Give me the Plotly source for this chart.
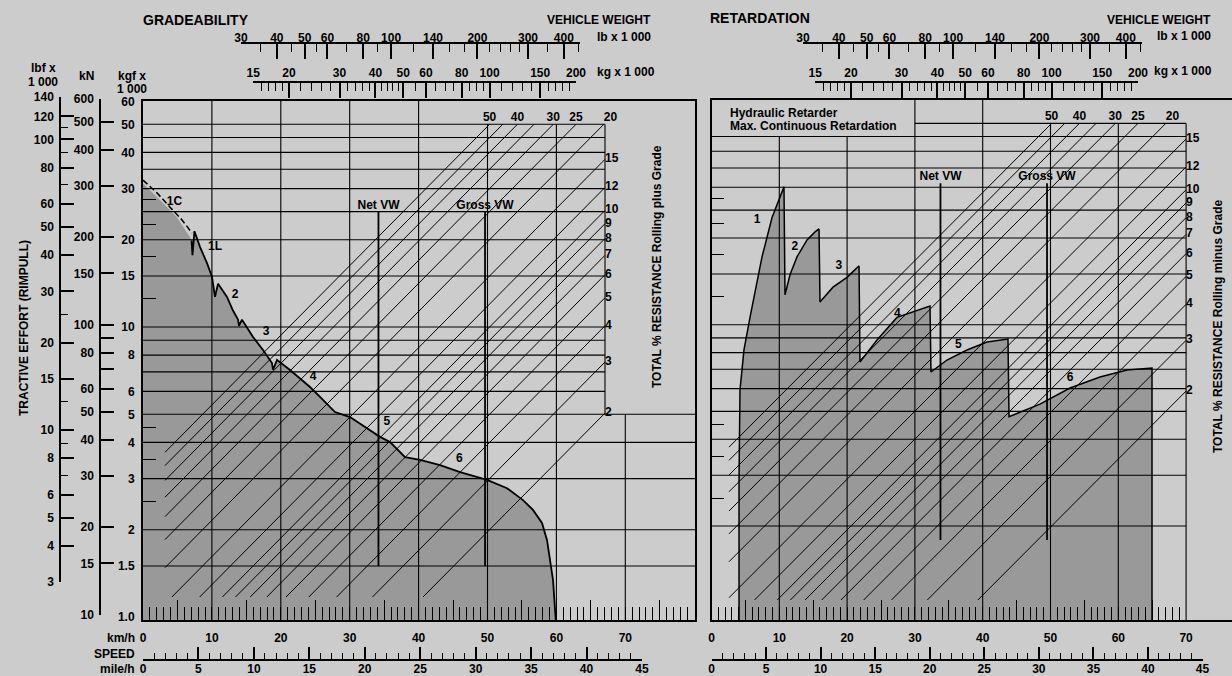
import math
import plotly.graph_objects as go

FIG_W, FIG_H = 1232, 676
FONT = "Liberation Sans, Arial, Helvetica, sans-serif"
BG = "#cccccc"
FILL = "#999999"
INK = "black"

# ------------------------------------------------------------------ data
# Gradeability: rimpull (kgf x 1000) against speed (km/h)
GRADE_KMH = [7.04, 7.18, 7.47, 8.27, 9.29, 10.01, 10.45, 10.89, 12.19, 13.06, 13.79, 13.93, 14.37,
             15.97, 17.42, 18.72, 18.87, 19.45, 21.34, 24.24, 25.69, 27.87, 30.04, 34.40, 35.85,
             38.03, 40.20, 43.11, 46.01, 49.93, 52.83, 55.15, 56.60, 57.91, 58.64, 59.07, 59.51, 59.94]
GRADE_KGF = [19.9, 17.7, 21.4, 18.9, 16.6, 14.9, 12.7, 14.1, 12.7, 11.4, 10.6, 10.1, 10.6,
             9.24, 8.33, 7.51, 7.11, 7.70, 7.11, 6.21, 5.74, 5.09, 4.89, 4.18, 4.01,
             3.56, 3.48, 3.34, 3.16, 2.97, 2.78, 2.53, 2.34, 2.11, 1.84, 1.57, 1.34, 0.95]
GRADE_1C_KMH = [0.0, 2.03, 3.92, 5.66, 7.11]
GRADE_1C_KGF = [32.1, 29.0, 25.9, 23.4, 21.1]
GRADE_FILL_1C_KMH = [0.0, 2.47, 4.93, 6.82]
GRADE_FILL_1C_KGF = [31.3, 27.4, 23.9, 20.4]
GRADE_GEAR_LABELS = ["1C", "1L", "2", "3", "4", "5", "6"]
GRADE_GEAR_KMH = [4.57, 10.45, 13.35, 17.85, 24.7, 35.4, 45.9]
GRADE_GEAR_KGF = [27.0, 18.9, 12.9, 9.6, 6.7, 4.70, 3.51]

# Retardation: retarding force against speed (km/h)
RET_KMH = [4.06, 4.06, 4.20, 4.79, 5.68, 6.56, 7.45, 8.92, 10.10, 10.69,
           10.84, 11.58, 12.61, 14.09, 15.27, 15.86,
           16.0, 17.92, 19.99, 21.76,
           21.9, 24.41, 27.36, 30.31, 32.23,
           32.37, 34.73, 37.68, 40.63, 43.73,
           43.88, 48.45, 52.88, 57.3, 61.28, 64.97, 64.97]
RET_FORCE = [0.9, 2.89, 5.93, 8.17, 10.6, 13.7, 17.2, 23.5, 27.8, 30.1,
             12.7, 14.9, 17.2, 19.7, 21.0, 21.5,
             12.0, 13.5, 14.6, 16.0,
             7.42, 8.85, 10.6, 11.2, 11.6,
             6.85, 7.54, 8.17, 8.71, 8.92,
             4.79, 5.30, 6.03, 6.58, 6.96, 7.07, 0.9]
RET_GEAR_LABELS = ["1", "2", "3", "4", "5", "6"]
RET_GEAR_KMH = [6.71, 12.3, 18.8, 27.4, 36.4, 52.9]
RET_GEAR_FORCE = [23.1, 18.6, 16.0, 10.9, 8.50, 6.53]

# Total resistance lines (%)
RESIST_PCT = [50, 45, 40, 35, 30, 25, 20, 15, 12, 10, 9, 8, 7, 6, 5, 4, 3, 2]
RESIST_TOP_LABELS = [50, 40, 30, 25, 20]
RESIST_SIDE_LABELS = [15, 12, 10, 9, 8, 7, 6, 5, 4, 3, 2]

# Vehicle weights (kg x 1000)
VW_NAMES = ["Net VW", "Gross VW"]
VW_KG = [41.0, 96.4]
L_VW_SPAN = [1.5, 25.0]
R_VW_SPAN = [1.79, 31.0]

# Axis ticks
KGF_TICKS = [60, 50, 40, 30, 20, 15, 10, 8, 6, 5, 4, 3, 2, 1.5, 1.0]
KGF_TEXT = ["60", "50", "40", "30", "20", "15", "10", "8", "6", "5", "4", "3", "2", "1.5", "1.0"]
KN_TICKS = [600, 500, 400, 300, 200, 150, 100, 90, 80, 70, 60, 50, 40, 30, 20, 15, 10]
KN_TEXT = ["600", "500", "400", "300", "200", "150", "100", "", "80", "", "60", "50", "40", "30", "20", "15", "10"]
LBF_MAJOR = [140, 120, 100, 80, 60, 50, 40, 30, 20, 15, 10, 8, 6, 5, 4, 3]
LBF_MINOR = [110, 90, 70, 25, 12.5, 9, 7]
INNER_MINOR = [27.5, 22.5, 17.5, 12.5, 4.5, 3.5, 2.5]
LB_MAJOR = [30, 40, 50, 60, 80, 100, 140, 200, 300, 400]
LB_MINOR = [35, 45, 55, 70, 90, 120, 160, 180, 220, 240, 260, 280, 350, 450]
KG_MAJOR = [15, 20, 30, 40, 50, 60, 80, 100, 150, 200]
KG_MINOR = [16, 17, 18, 19, 22, 24, 26, 28, 32, 34, 36, 38, 42, 44, 46, 48, 55, 65, 70, 75,
            85, 90, 95, 110, 120, 130, 140, 160, 170, 180, 190]
KMH_LABELS = [0, 10, 20, 30, 40, 50, 60, 70]
MPH_MAJOR = [0, 5, 10, 15, 20, 25, 30, 35, 40, 45]

# Grid levels
GRID_UPPER = [50, 45, 40, 35, 30, 25, 20, 15, 10, 9, 8, 7, 6]
L_GRID_LOWER = [5, 4, 3, 2, 1.5]
R_GRID_LOWER = [5, 4, 3, 2]
L_VGRID = [(10, 61), (20, 61), (30, 61), (40, 61), (50, 50), (60, 50), (70, 5)]
R_VGRID = [(10, 45), (20, 45), (30, 61), (40, 61), (50, 50), (60, 50), (70, 50)]

# ------------------------------------------------------------------ geometry (layout)
def X(px):
    return px / FIG_W


def Y(py):
    return 1 - py / FIG_H


LB_TO_KG = 0.45359
KN_TO_KGF = 0.101972
MPH_TO_KMH = 1.609344
W_PX_DEC = 287.0

# left panel
L_X0, L_X1, L_TOP, L_BOT = 143.0, 695.0, 101.0, 620.0
L_PX_KMH = 6.89
L_Y1, L_PX_DEC = 617.0, 290.0
L_W200 = 576.0
L_KMH_MAX = (L_X1 - L_X0) / L_PX_KMH
L_YR = [(L_Y1 - L_BOT) / L_PX_DEC, (L_Y1 - L_TOP) / L_PX_DEC]
L_KG_RANGE = [math.log10(200) + (L_X0 - L_W200) / W_PX_DEC, math.log10(200) + (L_X1 - L_W200) / W_PX_DEC]
L_DIAG_KMH = (605.0 - L_X0) / L_PX_KMH
L_DIAG_WMIN = 200 * 10 ** ((165 - L_W200) / W_PX_DEC)
L_DIAG_WMAX = 200 * 10 ** ((605 - L_W200) / W_PX_DEC)
L_DIAG_FMIN = 10 ** ((L_Y1 - 597) / L_PX_DEC)
DIAG_FMAX = 50.0

# right panel
R_X0, R_TOP, R_BOT = 711.5, 99.5, 620.0
R_PX_KMH = 6.78
R_Y1, R_PX_DEC = 612.7, 288.0
R_W200 = 1138.0
R_KMH_MAX = (FIG_W - R_X0) / R_PX_KMH
R_YR = [(R_Y1 - R_BOT) / R_PX_DEC, (R_Y1 - R_TOP) / R_PX_DEC]
R_KG_RANGE = [math.log10(200) + (R_X0 - R_W200) / W_PX_DEC, math.log10(200) + (FIG_W - R_W200) / W_PX_DEC]
R_DIAG_WMIN = 200 * 10 ** ((729 - R_W200) / W_PX_DEC)
R_DIAG_WMAX = 200 * 10 ** ((R_X0 + 70 * R_PX_KMH - R_W200) / W_PX_DEC)
R_DIAG_FMIN = 10 ** ((R_Y1 - 600) / R_PX_DEC)


def wpx(w200, kg):
    return w200 + W_PX_DEC * math.log10(kg / 200.0)


TF = dict(family=FONT, size=12, color=INK, weight="bold")

fig = go.Figure()


def line(xs, ys, xa, ya, width=1.0, dash="solid", color=INK):
    fig.add_trace(go.Scatter(x=xs, y=ys, xaxis=xa, yaxis=ya, mode="lines",
                             line=dict(color=color, width=width, dash=dash),
                             hoverinfo="skip", showlegend=False))


def texts(xs, ys, labels, xa, ya, pos="middle center"):
    fig.add_trace(go.Scatter(x=xs, y=ys, xaxis=xa, yaxis=ya, mode="text", text=labels,
                             textposition=pos, textfont=TF, cliponaxis=False,
                             hoverinfo="skip", showlegend=False))


def dummy(xa, ya, x, y):
    fig.add_trace(go.Scatter(x=[x], y=[y], xaxis=xa, yaxis=ya, mode="markers",
                             marker=dict(opacity=0, size=1), hoverinfo="skip", showlegend=False))


def grid(upper, lower, vgrid, kmin_upper, k_right_upper, k_right_lower, ybot):
    xs, ys = [], []
    for lv in upper:
        xs += [kmin_upper.get(lv, 0), k_right_upper, None]
        ys += [lv, lv, None]
    for lv in lower:
        xs += [0, k_right_lower, None]
        ys += [lv, lv, None]
    for k, top in vgrid:
        xs += [k, k, None]
        ys += [ybot, top, None]
    return xs, ys


def diagonals(wmin, wmax, fmin, fmax):
    xs, ys = [], []
    for p in RESIST_PCT:
        lo = max(wmin, fmin * 100.0 / p)
        hi = min(wmax, fmax * 100.0 / p)
        xs += [lo, hi, None]
        ys += [lo * p / 100.0, hi * p / 100.0, None]
    return xs, ys


# ------------------------------------------------------------------ left panel traces
poly_x = [0.0] + GRADE_FILL_1C_KMH + GRADE_KMH + [GRADE_KMH[-1], 0.0]
poly_y = [0.9] + GRADE_FILL_1C_KGF + GRADE_KGF + [0.9, 0.9]
fig.add_trace(go.Scatter(x=poly_x, y=poly_y, xaxis="x", yaxis="y", mode="lines", fill="toself",
                         fillcolor=FILL, line=dict(width=0, color=FILL), hoverinfo="skip", showlegend=False))

gx, gy = grid(GRID_UPPER, L_GRID_LOWER, L_VGRID, {}, L_DIAG_KMH, L_KMH_MAX + 1, 0.9)
gx += [L_DIAG_KMH, L_DIAG_KMH, None]
gy += [5, 50, None]
line(gx, gy, "x", "y", 1.1)

dx, dy = diagonals(L_DIAG_WMIN, L_DIAG_WMAX, L_DIAG_FMIN, DIAG_FMAX)
line(dx, dy, "x3", "y", 1.0)

vx, vy = [], []
for w in VW_KG:
    vx += [w, w, None]
    vy += [L_VW_SPAN[0], L_VW_SPAN[1], None]
line(vx, vy, "x3", "y", 1.8)

line(GRADE_KMH, GRADE_KGF, "x", "y", 1.8)
line(GRADE_1C_KMH, GRADE_1C_KGF, "x", "y", 1.5, dash="6px,3px")

texts(GRADE_GEAR_KMH, GRADE_GEAR_KGF, GRADE_GEAR_LABELS, "x", "y")
texts([5000.0 / p for p in RESIST_TOP_LABELS], [DIAG_FMAX] * len(RESIST_TOP_LABELS),
      [str(p) for p in RESIST_TOP_LABELS], "x3", "y",
      ["top right" if p == 20 else "top center" for p in RESIST_TOP_LABELS])
texts([L_DIAG_WMAX] * len(RESIST_SIDE_LABELS), [L_DIAG_WMAX * p / 100.0 for p in RESIST_SIDE_LABELS],
      [str(p) for p in RESIST_SIDE_LABELS], "x3", "y", "middle right")
texts(VW_KG, [L_VW_SPAN[1]] * 2, VW_NAMES, "x3", "y", "top center")

# ------------------------------------------------------------------ right panel traces
fig.add_trace(go.Scatter(x=RET_KMH, y=RET_FORCE, xaxis="x2", yaxis="y2", mode="lines", fill="toself",
                         fillcolor=FILL, line=dict(width=0, color=FILL), hoverinfo="skip", showlegend=False))
gx, gy = grid(GRID_UPPER, R_GRID_LOWER, R_VGRID, {50: 30}, 70, 70, 0.9)
line(gx, gy, "x2", "y2", 1.1)
dx, dy = diagonals(R_DIAG_WMIN, R_DIAG_WMAX, R_DIAG_FMIN, DIAG_FMAX)
line(dx, dy, "x8", "y2", 1.0)
vx, vy = [], []
for w in VW_KG:
    vx += [w, w, None]
    vy += [R_VW_SPAN[0], R_VW_SPAN[1], None]
line(vx, vy, "x8", "y2", 1.8)
line(RET_KMH, RET_FORCE, "x2", "y2", 1.5)
texts(RET_GEAR_KMH, RET_GEAR_FORCE, RET_GEAR_LABELS, "x2", "y2")
texts([5000.0 / p for p in RESIST_TOP_LABELS], [DIAG_FMAX] * len(RESIST_TOP_LABELS),
      [str(p) for p in RESIST_TOP_LABELS], "x8", "y2",
      ["top right" if p == 20 else "top center" for p in RESIST_TOP_LABELS])
texts([R_DIAG_WMAX] * len(RESIST_SIDE_LABELS), [R_DIAG_WMAX * p / 100.0 for p in RESIST_SIDE_LABELS],
      [str(p) for p in RESIST_SIDE_LABELS], "x8", "y2", "middle right")
texts(VW_KG, [R_VW_SPAN[1]] * 2, VW_NAMES, "x8", "y2", "top center")

# dummies so decorative axes are drawn
for xa in ["x4", "x5"]:
    dummy(xa, "y", 50, 10)
dummy("x6", "y", 30, 10)
dummy("x7", "y", 20, 10)
dummy("x", "y3", 30, 100)
dummy("x", "y4", 30, 10)
for xa in ["x9", "x10"]:
    dummy(xa, "y2", 50, 10)
dummy("x11", "y2", 30, 10)
dummy("x12", "y2", 20, 10)

# ------------------------------------------------------------------ axes
BASE = dict(showgrid=False, zeroline=False, color=INK, automargin=False)


def speed_axis(dom, rng, anchor, maxk):
    return dict(BASE, domain=dom, range=rng, anchor=anchor, showline=True, linecolor=INK, linewidth=2,
                mirror=True, ticks="inside", tickmode="array", tickvals=list(range(5, maxk, 10)),
                ticklen=20, tickwidth=1, tickcolor=INK, showticklabels=False,
                minor=dict(tickmode="array", tickvals=list(range(1, maxk)), ticks="inside",
                           ticklen=13, tickwidth=1, tickcolor=INK))


def weight_axis(dom, major, minor, pos, standoff):
    return dict(BASE, type="log", domain=dom, anchor="free", position=pos, side="top",
                showline=True, linecolor=INK, linewidth=1.5,
                ticks="inside", tickmode="array", tickvals=major, ticktext=[str(v) for v in major],
                ticklen=15, tickwidth=1.5, tickcolor=INK, tickfont=TF, ticklabelstandoff=standoff,
                minor=dict(tickmode="array", tickvals=minor, ticks="inside", ticklen=8,
                           tickwidth=1.2, tickcolor=INK))


def label_axis(dom, rng):
    return dict(BASE, domain=dom, range=rng, anchor="free", position=Y(620), side="bottom",
                showline=False, ticks="", tickmode="array", tickvals=KMH_LABELS,
                ticktext=[str(v) for v in KMH_LABELS], tickfont=TF, ticklabelstandoff=9)


def mph_axis(dom):
    return dict(BASE, domain=dom, range=[0, 45], anchor="free", position=Y(660), side="bottom",
                showline=True, linecolor=INK, linewidth=1.5, ticks="inside", tickmode="array",
                tickvals=MPH_MAJOR, ticktext=[str(v) for v in MPH_MAJOR], ticklen=12, tickwidth=1.5,
                tickcolor=INK, tickfont=TF, ticklabelstandoff=-2,
                minor=dict(tickmode="array", tickvals=list(range(0, 46)), ticks="inside", ticklen=6,
                           tickwidth=1.2, tickcolor=INK))


L_LB_MAX = 455
lay = dict(
    template="none",
    width=FIG_W, height=FIG_H, autosize=False, margin=dict(l=0, r=0, t=0, b=0, pad=0, autoexpand=False),
    paper_bgcolor=BG, plot_bgcolor="rgba(0,0,0,0)", showlegend=False, hovermode=False,
    font=dict(family=FONT, size=12, color=INK),
    xaxis=speed_axis([X(L_X0), X(L_X1)], [0, L_KMH_MAX], "y", 80),
    yaxis=dict(BASE, type="log", domain=[Y(L_BOT), Y(L_TOP)], range=L_YR, anchor="x", showline=True,
               linecolor=INK, linewidth=2, mirror=True, ticks="", tickmode="array", tickvals=KGF_TICKS,
               ticktext=KGF_TEXT, tickfont=TF, ticklabelstandoff=4,
               minor=dict(tickmode="array", tickvals=INNER_MINOR, ticks="inside", ticklen=13,
                          tickwidth=1, tickcolor=INK)),
    xaxis3=dict(type="log", range=L_KG_RANGE, overlaying="x", anchor="y", visible=False, automargin=False),
    xaxis6=label_axis([X(L_X0), X(L_X1)], [0, L_KMH_MAX]),
    xaxis7=mph_axis([X(L_X0), X(L_X0 + L_PX_KMH * 45 * MPH_TO_KMH)]),
    yaxis3=dict(BASE, type="log",
                domain=[Y(L_Y1 - L_PX_DEC * math.log10(10 * KN_TO_KGF)),
                        Y(L_Y1 - L_PX_DEC * math.log10(600 * KN_TO_KGF))],
                range=[1, math.log10(600)], anchor="free", position=X(100), side="left",
                showline=True, linecolor=INK, linewidth=1.5, ticks="inside", ticklen=13, tickwidth=1.5,
                tickcolor=INK, tickmode="array", tickvals=KN_TICKS, ticktext=KN_TEXT, tickfont=TF,
                ticklabelstandoff=3),
    yaxis4=dict(BASE, type="log", domain=[Y(582), Y(97)], range=[math.log10(3), math.log10(140)],
                anchor="free", position=X(60), side="left", showline=True, linecolor=INK, linewidth=1.5,
                ticks="inside", ticklen=13, tickwidth=1.5, tickcolor=INK, tickmode="array",
                tickvals=LBF_MAJOR, ticktext=[str(v) for v in LBF_MAJOR], tickfont=TF, ticklabelstandoff=3,
                minor=dict(tickmode="array", tickvals=LBF_MINOR, ticks="inside", ticklen=7,
                           tickwidth=1.2, tickcolor=INK)),
    xaxis2=speed_axis([X(R_X0), 1.0], [0, R_KMH_MAX], "y2", 70),
    yaxis2=dict(BASE, type="log", domain=[Y(R_BOT), Y(R_TOP)], range=R_YR, anchor="x2", showline=True,
                linecolor=INK, linewidth=2, mirror=False, ticks="", showticklabels=False,
                minor=dict(tickmode="array", tickvals=INNER_MINOR, ticks="inside", ticklen=12,
                           tickwidth=1, tickcolor=INK)),
    xaxis8=dict(type="log", range=R_KG_RANGE, overlaying="x2", anchor="y2", visible=False, automargin=False),
    xaxis11=label_axis([X(R_X0), 1.0], [0, R_KMH_MAX]),
    xaxis12=mph_axis([X(R_X0), X(R_X0 + R_PX_KMH * 45 * MPH_TO_KMH)]),
)

for name, w200 in [("4", L_W200), ("9", R_W200)]:
    ax = weight_axis([X(wpx(w200, 15)), X(wpx(w200, 200))], KG_MAJOR, KG_MINOR, Y(82), -1)
    ax["range"] = [math.log10(15), math.log10(200)]
    lay["xaxis" + name] = ax
for name, w200 in [("5", L_W200), ("10", R_W200)]:
    ax = weight_axis([X(wpx(w200, 30 * LB_TO_KG)), X(wpx(w200, L_LB_MAX * LB_TO_KG))],
                     LB_MAJOR, LB_MINOR, Y(43), -5)
    ax["range"] = [math.log10(30), math.log10(L_LB_MAX)]
    lay["xaxis" + name] = ax


def ann(text, xpx, ypx, size=12, xanchor="center", angle=0):
    return dict(text=text, x=X(xpx), y=Y(ypx), xref="paper", yref="paper", showarrow=False,
                xanchor=xanchor, yanchor="middle", textangle=angle, align="left" if xanchor == "left" else "center",
                font=dict(family=FONT, size=size, color=INK, weight="bold"))


lay["annotations"] = [
    ann("GRADEABILITY", 196, 20, 14),
    ann("VEHICLE WEIGHT", 653, 20, 12, "right"),
    ann("lb x 1 000", 653, 37, 12, "right"),
    ann("kg x 1 000", 657, 72, 12, "right"),
    ann("RETARDATION", 708, 18, 14, "left"),
    ann("VEHICLE WEIGHT", 1213, 20, 12, "right"),
    ann("lb x 1 000", 1213, 36, 12, "right"),
    ann("kg x 1 000", 1214, 71, 12, "right"),
    ann("lbf x", 43, 68, 12),
    ann("1 000", 43, 82, 12),
    ann("kN", 86, 76, 12),
    ann("kgf x", 132, 76, 12),
    ann("1 000", 132, 89, 12),
    ann("TRACTIVE EFFORT (RIMPULL)", 24, 328, 12, "center", -90),
    ann("TOTAL % RESISTANCE Rolling plus Grade", 657, 267, 12, "center", -90),
    ann("TOTAL % RESISTANCE Rolling minus Grade", 1218, 327, 12, "center", -90),
    ann("Hydraulic Retarder", 728, 113, 12, "left"),
    ann("Max. Continuous Retardation", 728, 126, 12, "left"),
    ann("km/h", 137, 638, 12, "right"),
    ann("SPEED", 137, 654, 12, "right"),
    ann("mile/h", 137, 669, 12, "right"),
]

fig.update_layout(**lay)
fig.write_html("out.html", config={"displayModeBar": False},
               post_script="document.body.style.margin='0px';document.body.style.overflow='hidden';")
